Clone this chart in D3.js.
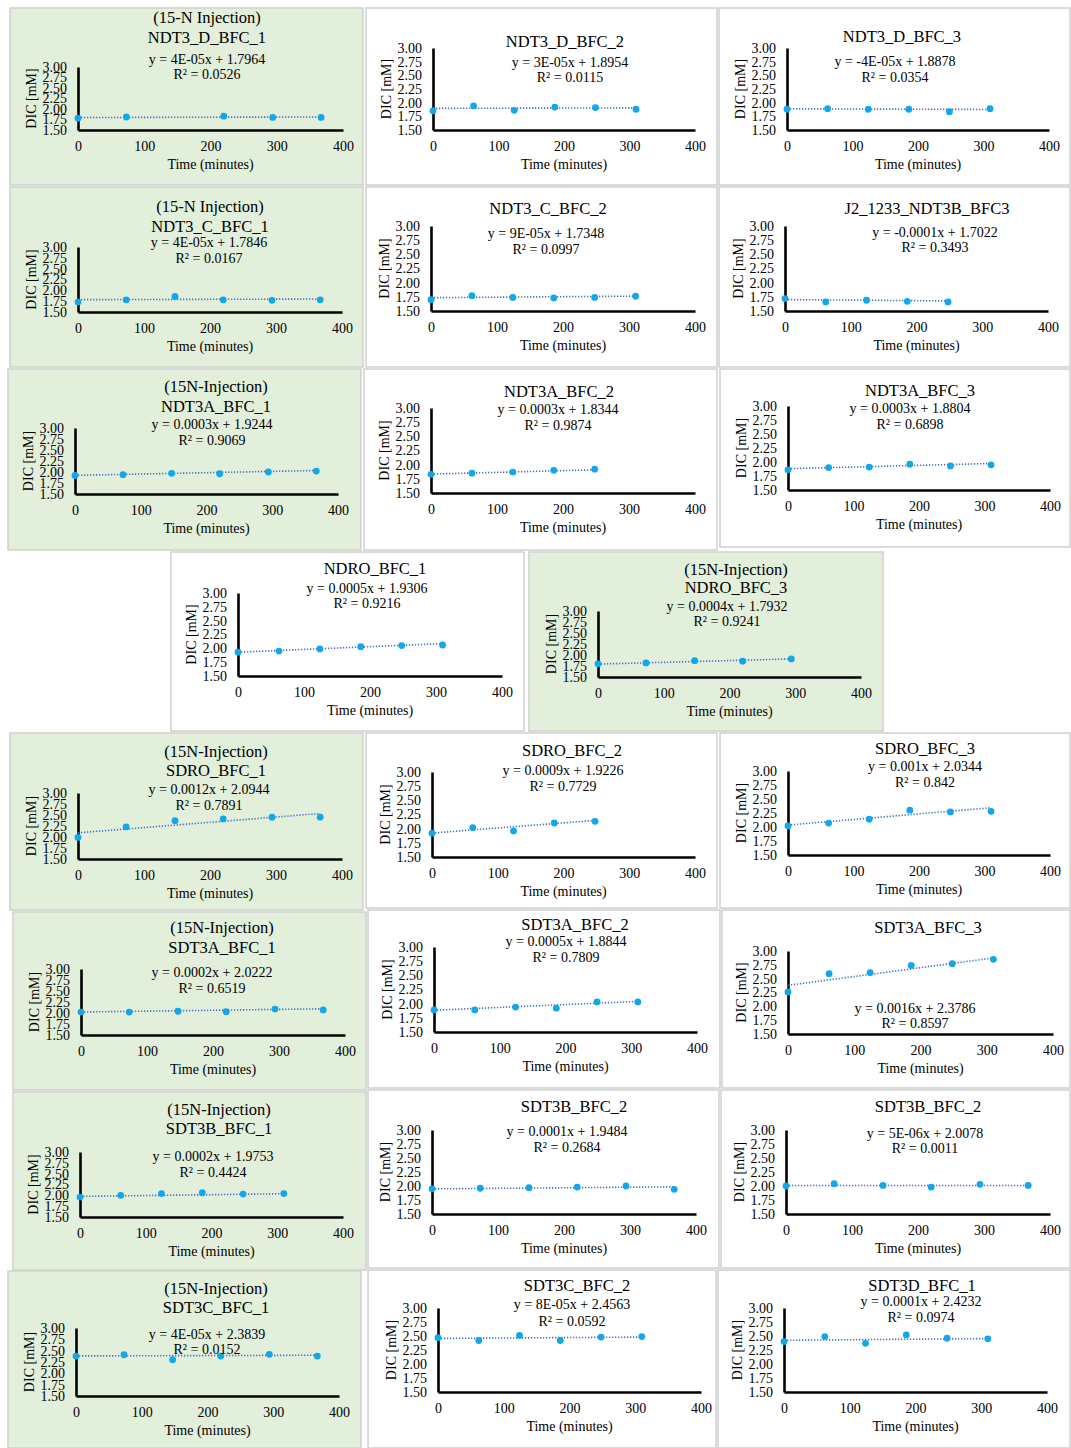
<!DOCTYPE html>
<html><head><meta charset="utf-8">
<script src="https://cdn.jsdelivr.net/npm/d3@7"></script>
<style>
body{margin:0;background:#fff;}
svg text{font-family:"Liberation Serif","Times New Roman",serif;fill:#000;}
</style></head><body>
<svg id="c" width="1071" height="1448"></svg>
<script>
// ---------- DATA ----------
const xTickLabels = [0, 100, 200, 300, 400];
const yTickLabels = [1.50, 1.75, 2.00, 2.25, 2.50, 2.75, 3.00];
const timesA = [0, 62, 124, 186, 248, 310];
const timesB = [0, 73, 147, 220, 294, 367];
const timesA5 = [0, 62, 124, 186, 248];
const timesB5 = [0, 73, 147, 220, 294];
const timesC = [0, 73, 220, 294, 367];

const titles = [
  ["(15-N Injection)", "NDT3_D_BFC_1"], ["NDT3_D_BFC_2"], ["NDT3_D_BFC_3"],
  ["(15-N Injection)", "NDT3_C_BFC_1"], ["NDT3_C_BFC_2"], ["J2_1233_NDT3B_BFC3"],
  ["(15N-Injection)", "NDT3A_BFC_1"], ["NDT3A_BFC_2"], ["NDT3A_BFC_3"],
  ["NDRO_BFC_1"], ["(15N-Injection)", "NDRO_BFC_3"],
  ["(15N-Injection)", "SDRO_BFC_1"], ["SDRO_BFC_2"], ["SDRO_BFC_3"],
  ["(15N-Injection)", "SDT3A_BFC_1"], ["SDT3A_BFC_2"], ["SDT3A_BFC_3"],
  ["(15N-Injection)", "SDT3B_BFC_1"], ["SDT3B_BFC_2"], ["SDT3B_BFC_2"],
  ["(15N-Injection)", "SDT3C_BFC_1"], ["SDT3C_BFC_2"], ["SDT3D_BFC_1"]
];
const eqLabels = [
  "y = 4E-05x + 1.7964", "y = 3E-05x + 1.8954", "y = -4E-05x + 1.8878",
  "y = 4E-05x + 1.7846", "y = 9E-05x + 1.7348", "y = -0.0001x + 1.7022",
  "y = 0.0003x + 1.9244", "y = 0.0003x + 1.8344", "y = 0.0003x + 1.8804",
  "y = 0.0005x + 1.9306", "y = 0.0004x + 1.7932",
  "y = 0.0012x + 2.0944", "y = 0.0009x + 1.9226", "y = 0.001x + 2.0344",
  "y = 0.0002x + 2.0222", "y = 0.0005x + 1.8844", "y = 0.0016x + 2.3786",
  "y = 0.0002x + 1.9753", "y = 0.0001x + 1.9484", "y = 5E-06x + 2.0078",
  "y = 4E-05x + 2.3839", "y = 8E-05x + 2.4563", "y = 0.0001x + 2.4232"
];
const r2Labels = [
  "R² = 0.0526", "R² = 0.0115", "R² = 0.0354",
  "R² = 0.0167", "R² = 0.0997", "R² = 0.3493",
  "R² = 0.9069", "R² = 0.9874", "R² = 0.6898",
  "R² = 0.9216", "R² = 0.9241",
  "R² = 0.7891", "R² = 0.7729", "R² = 0.842",
  "R² = 0.6519", "R² = 0.7809", "R² = 0.8597",
  "R² = 0.4424", "R² = 0.2684", "R² = 0.0011",
  "R² = 0.0152", "R² = 0.0592", "R² = 0.0974"
];
const slopes = [4e-5, 3e-5, -4e-5, 4e-5, 9e-5, -0.0001, 0.0003, 0.0003, 0.0003, 0.0005, 0.0004,
  0.0012, 0.0009, 0.001, 0.0002, 0.0005, 0.0016, 0.0002, 0.0001, 5e-6, 4e-5, 8e-5, 0.0001];
const intercepts = [1.7964, 1.8954, 1.8878, 1.7846, 1.7348, 1.7022, 1.9244, 1.8344, 1.8804, 1.9306, 1.7932,
  2.0944, 1.9226, 2.0344, 2.0222, 1.8844, 2.3786, 1.9753, 1.9484, 2.0078, 2.3839, 2.4563, 2.4232];
const times = [timesC, timesA, timesA, timesB, timesA, timesA5, timesB, timesA5, timesA,
  timesA, timesB5, timesB, timesA5, timesA, timesB, timesA, timesA, timesA, timesB, timesB,
  timesB, timesA, timesA];
const dic = [
  [1.78, 1.81, 1.83, 1.80, 1.80],
  [1.85, 1.94, 1.86, 1.92, 1.91, 1.88],
  [1.88, 1.89, 1.88, 1.88, 1.835, 1.89],
  [1.73, 1.78, 1.86, 1.78, 1.77, 1.78],
  [1.70, 1.77, 1.74, 1.73, 1.74, 1.76],
  [1.72, 1.66, 1.69, 1.67, 1.66],
  [1.92, 1.94, 1.97, 1.96, 2.00, 2.02],
  [1.83, 1.85, 1.87, 1.90, 1.92],
  [1.86, 1.90, 1.91, 1.96, 1.93, 1.95],
  [1.93, 1.95, 1.99, 2.03, 2.05, 2.06],
  [1.80, 1.82, 1.87, 1.86, 1.91],
  [1.99, 2.23, 2.37, 2.41, 2.45, 2.45],
  [1.92, 2.02, 1.96, 2.10, 2.13],
  [2.02, 2.07, 2.14, 2.30, 2.27, 2.28],
  [2.02, 2.02, 2.04, 2.03, 2.09, 2.07],
  [1.89, 1.89, 1.94, 1.92, 2.03, 2.03],
  [2.26, 2.59, 2.61, 2.74, 2.77, 2.85],
  [1.96, 2.00, 2.04, 2.06, 2.03, 2.04],
  [1.95, 1.96, 1.97, 1.98, 2.00, 1.94],
  [2.00, 2.04, 2.01, 1.98, 2.03, 2.01],
  [2.38, 2.41, 2.30, 2.38, 2.42, 2.38],
  [2.47, 2.42, 2.51, 2.42, 2.48, 2.49],
  [2.40, 2.49, 2.37, 2.52, 2.46, 2.45]
];

// ---------- LAYOUT (positions only) ----------
// box [x,y,w,h], green, plot [L,T,R,B], title centre x, title baselines, eq centre x, eq baseline, r2 baseline
const layout = [
  {box:[10,8,353,177], g:1, p:[78,67,343,130], tx:207, ty:[23,43], ex:207, ey:64, ry:79},
  {box:[366,8,351,177], g:0, p:[433,48,695,130], tx:565, ty:[47], ex:570, ey:67, ry:82},
  {box:[719,8,351,177], g:0, p:[787,48,1049,130], tx:902, ty:[42], ex:895, ey:66, ry:82},
  {box:[10,187,353,180], g:1, p:[78,247,342,312], tx:210, ty:[212,232], ex:209, ey:247, ry:263},
  {box:[366,187,351,180], g:0, p:[431,226,695,311], tx:548, ty:[214], ex:546, ey:238, ry:254},
  {box:[719,187,351,180], g:0, p:[785,226,1048,311], tx:927, ty:[214], ex:935, ey:237, ry:252},
  {box:[8,369,353,181], g:1, p:[75,428,338,494], tx:216, ty:[392,412], ex:212, ey:429, ry:445},
  {box:[364,369,353,181], g:0, p:[431,408,695,493], tx:559, ty:[397], ex:558, ey:414, ry:430},
  {box:[720,369,350,178], g:0, p:[788,406,1050,490], tx:920, ty:[396], ex:910, ey:413, ry:429},
  {box:[171,552,353,179], g:0, p:[238,593,502,676], tx:375, ty:[574], ex:367, ey:593, ry:608},
  {box:[529,552,354,179], g:1, p:[598,611,861,677], tx:736, ty:[575,593], ex:727, ey:611, ry:626},
  {box:[10,733,353,177], g:1, p:[78,793,342,859], tx:216, ty:[757,776], ex:209, ey:794, ry:810},
  {box:[366,733,351,175], g:0, p:[432,772,695,857], tx:572, ty:[756], ex:563, ey:775, ry:791},
  {box:[720,733,350,175], g:0, p:[788,771,1050,855], tx:925, ty:[754], ex:925, ey:771, ry:787},
  {box:[13,912,353,178], g:1, p:[81,969,345,1035], tx:222, ty:[933,953], ex:212, ey:977, ry:993},
  {box:[368,910,352,178], g:0, p:[434,947,697,1032], tx:575, ty:[930], ex:566, ey:946, ry:962},
  {box:[722,910,348,178], g:0, p:[788,951,1053,1034], tx:928, ty:[933], ex:915, ey:1013, ry:1028},
  {box:[13,1092,353,178], g:1, p:[80,1152,343,1217], tx:219, ty:[1115,1134], ex:213, ey:1161, ry:1177},
  {box:[368,1090,351,178], g:0, p:[432,1130,696,1214], tx:574, ty:[1112], ex:567, ey:1136, ry:1152},
  {box:[721,1090,349,178], g:0, p:[786,1130,1050,1214], tx:928, ty:[1112], ex:925, ey:1138, ry:1153},
  {box:[8,1271,353,177], g:1, p:[76,1328,339,1396], tx:216, ty:[1294,1313], ex:207, ey:1339, ry:1354},
  {box:[368,1270,348,178], g:0, p:[438,1308,701,1392], tx:577, ty:[1291], ex:572, ey:1309, ry:1326},
  {box:[718,1270,352,178], g:0, p:[784,1308,1047,1392], tx:922, ty:[1291], ex:921, ey:1306, ry:1322}
];

// ---------- DRAW ----------
const svg = d3.select("#c");
svg.append("rect").attr("width",1071).attr("height",1448).attr("fill","#fff");

layout.forEach((L, i) => {
  const [bx, by, bw, bh] = L.box;
  svg.append("rect").attr("x", bx).attr("y", by).attr("width", bw).attr("height", bh)
    .attr("fill", L.g ? "#e2efda" : "#ffffff").attr("stroke", "#cfcfcf").attr("stroke-width", 1.5);

  const [pl, pt, pr, pb] = L.p;
  const x = d3.scaleLinear().domain([0, 400]).range([pl, pr]);
  const y = d3.scaleLinear().domain([1.5, 3.0]).range([pb, pt]);
  const g = svg.append("g");

  // titles
  titles[i].forEach((t, k) => {
    g.append("text").attr("x", L.tx).attr("y", L.ty[k]).attr("text-anchor", "middle")
      .attr("font-size", 16.5).text(t);
  });

  // axes
  const xa = g.append("g").attr("transform", `translate(0,${pb})`)
    .call(d3.axisBottom(x).tickValues(xTickLabels).tickSize(0).tickPadding(11).tickFormat(d3.format("d")));
  const ya = g.append("g").attr("transform", `translate(${pl},0)`)
    .call(d3.axisLeft(y).tickValues(yTickLabels).tickSize(0).tickPadding(11).tickFormat(d3.format(".2f")));
  [xa, ya].forEach(a => {
    a.select(".domain").attr("stroke", "#000").attr("stroke-width", 2.6);
    a.selectAll("text").attr("font-size", 14).attr("font-family", '"Liberation Serif","Times New Roman",serif').attr("fill", "#000");
  });

  // axis titles
  g.append("text").attr("x", (pl + pr) / 2).attr("y", pb + 38.5).attr("text-anchor", "middle")
    .attr("font-size", 14).text("Time (minutes)");
  g.append("text").attr("transform", `translate(${pl - 42},${(pt + pb) / 2}) rotate(-90)`)
    .attr("text-anchor", "middle").attr("font-size", 14).text("DIC [mM]");

  // trendline
  const xs = times[i];
  const x0 = d3.min(xs), x1 = d3.max(xs);
  g.append("line")
    .attr("x1", x(x0)).attr("y1", y(intercepts[i] + slopes[i] * x0))
    .attr("x2", x(x1)).attr("y2", y(intercepts[i] + slopes[i] * x1))
    .attr("stroke", "#4472c4").attr("stroke-width", 1.6).attr("stroke-dasharray", "1.3,1.7");

  // points
  g.selectAll("circle.pt").data(xs.map((t, k) => [t, dic[i][k]])).enter().append("circle")
    .attr("cx", d => x(d[0])).attr("cy", d => y(d[1])).attr("r", 3.4).attr("fill", "#12a7ea");

  // equation
  g.append("text").attr("x", L.ex).attr("y", L.ey).attr("text-anchor", "middle").attr("font-size", 14).text(eqLabels[i]);
  g.append("text").attr("x", L.ex).attr("y", L.ry).attr("text-anchor", "middle").attr("font-size", 14).text(r2Labels[i]);
});
</script>
</body></html>
